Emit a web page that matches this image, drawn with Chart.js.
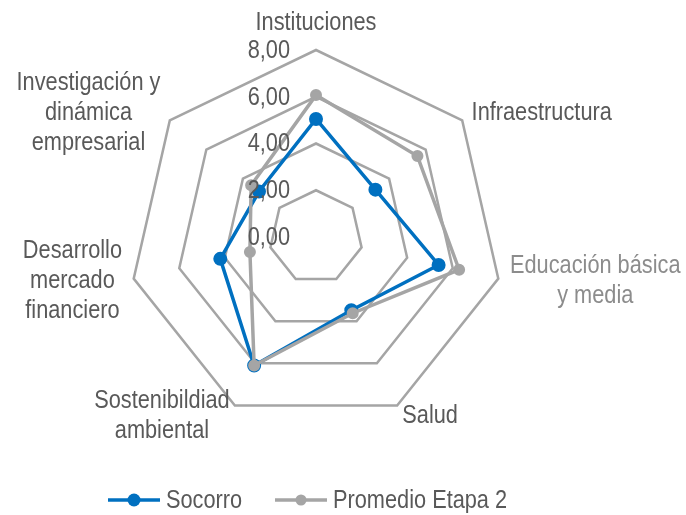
<!DOCTYPE html>
<html>
<head>
<meta charset="utf-8">
<script src="https://cdn.jsdelivr.net/npm/chart.js@4/dist/chart.umd.min.js"></script>
<style>
  html, body { margin: 0; padding: 0; background: #fff; }
  #wrap { width: 686px; height: 515px; }
</style>
</head>
<body>
<div id="wrap"><canvas id="c" width="686" height="515"></canvas></div>
<script>
// Arial Narrow look: Liberation Sans squeezed horizontally
const FONT = '"Liberation Sans", Arial, sans-serif';
const NARROW = 0.87;

const categories = [
  ['Instituciones'],
  ['Infraestructura'],
  ['Educación básica', 'y media'],
  ['Salud'],
  ['Sostenibildiad', 'ambiental'],
  ['Desarrollo', 'mercado', 'financiero'],
  ['Investigación y', 'dinámica', 'empresarial']
];
const socorro = [5.05, 3.25, 5.38, 3.48, 6.10, 4.20, 3.12];
const promedio = [6.07, 5.55, 6.28, 3.62, 6.10, 2.90, 3.55];
const tickValues = [0, 2, 4, 6, 8];
const tickLabels = ['0,00', '2,00', '4,00', '6,00', '8,00'];

const BLUE = '#0070C0';
const GRAY = '#A5A5A5';
const TEXT = '#595959';

// label placement per axis: horizontal align, colour
const labelAlign = ['center', 'left', 'left', 'left', 'right', 'right', 'right'];
const labelColor = [TEXT, TEXT, '#8C8C8C', TEXT, TEXT, TEXT, TEXT];

function narrowWidth(ctx, s) {
  return ctx.measureText(s).width * NARROW;
}
// draws text centred / left / right at x with narrow scaling
function narrowText(ctx, s, x, y, align) {
  const w = narrowWidth(ctx, s);
  let left = x;
  if (align === 'center') left = x - w / 2;
  else if (align === 'right') left = x - w;
  ctx.save();
  ctx.translate(left, y);
  ctx.scale(NARROW, 1);
  ctx.textAlign = 'left';
  ctx.fillText(s, 0, 0);
  ctx.restore();
}

const labelsPlugin = {
  id: 'excelLabels',
  afterDraw(chart) {
    const ctx = chart.ctx;
    const r = chart.scales.r;
    ctx.save();
    ctx.font = '25px ' + FONT;
    ctx.textBaseline = 'middle';

    // tick labels, to the left of the top axis
    ctx.fillStyle = TEXT;
    tickValues.forEach((v, i) => {
      const p = r.getPointPositionForValue(0, v);
      narrowText(ctx, tickLabels[i], p.x - 26, p.y + 1, 'right');
    });

    // category labels
    const lh = 30;
    categories.forEach((lines, i) => {
      const p = r.getPointPosition(i, r.drawingArea + 12);
      const w = Math.max(...lines.map(l => narrowWidth(ctx, l)));
      let cx;
      if (labelAlign[i] === 'left') cx = p.x + w / 2;
      else if (labelAlign[i] === 'right') cx = p.x - w / 2;
      else cx = p.x;
      let cy = p.y - (lines.length - 1) * lh / 2;
      if (i === 0) cy = p.y - 15;
      ctx.fillStyle = labelColor[i];
      lines.forEach((l, k) => narrowText(ctx, l, cx, cy + k * lh, 'center'));
    });

    // legend
    const ly = 500;
    const items = [
      { text: 'Socorro', color: BLUE, x: 108, r: 6.5 },
      { text: 'Promedio Etapa 2', color: GRAY, x: 275, r: 5.5 }
    ];
    items.forEach(it => {
      ctx.strokeStyle = it.color;
      ctx.lineWidth = 3.5;
      ctx.beginPath();
      ctx.moveTo(it.x, ly);
      ctx.lineTo(it.x + 52, ly);
      ctx.stroke();
      ctx.fillStyle = it.color;
      ctx.beginPath();
      ctx.arc(it.x + 26, ly, it.r, 0, Math.PI * 2);
      ctx.fill();
      ctx.fillStyle = TEXT;
      narrowText(ctx, it.text, it.x + 58, ly + 1, 'left');
    });
    ctx.restore();
  }
};

new Chart(document.getElementById('c'), {
  type: 'radar',
  data: {
    labels: categories,
    datasets: [
      {
        label: 'Socorro',
        data: socorro,
        borderColor: BLUE,
        backgroundColor: BLUE,
        pointBackgroundColor: BLUE,
        pointBorderColor: BLUE,
        borderWidth: 3.5,
        pointRadius: 6,
        pointBorderWidth: 2,
        fill: false,
        order: 1
      },
      {
        label: 'Promedio Etapa 2',
        data: promedio,
        borderColor: GRAY,
        backgroundColor: GRAY,
        pointBackgroundColor: GRAY,
        pointBorderColor: GRAY,
        borderWidth: 3.5,
        pointRadius: 5,
        pointBorderWidth: 2,
        fill: false,
        order: 0
      }
    ]
  },
  options: {
    responsive: false,
    animation: false,
    layout: { padding: { left: 129, right: 183, top: 50, bottom: 91 } },
    plugins: { legend: { display: false }, tooltip: { enabled: false } },
    elements: { line: { tension: 0 } },
    scales: {
      r: {
        min: 0,
        max: 8,
        ticks: { stepSize: 2, display: false, showLabelBackdrop: false },
        grid: { color: GRAY, lineWidth: 2.5 },
        angleLines: { display: false },
        pointLabels: { display: false }
      }
    }
  },
  plugins: [labelsPlugin]
});
</script>
</body>
</html>
